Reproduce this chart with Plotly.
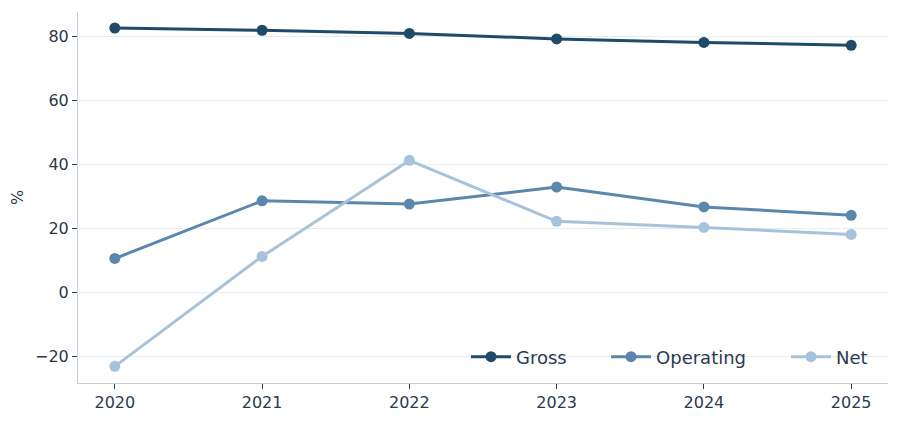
import plotly.graph_objects as go

years = [2020, 2021, 2022, 2023, 2024, 2025]
gross = [82.6, 81.9, 80.9, 79.2, 78.1, 77.2]
operating = [10.6, 28.6, 27.6, 32.9, 26.7, 24.1]
net = [-23.1, 11.25, 41.25, 22.2, 20.3, 18.1]
y_ticks = [-20, 0, 20, 40, 60, 80]
y_tick_labels = ["\u221220", "0", "20", "40", "60", "80"]

series = [("Gross", gross, "#1f4a68", "legend"),
          ("Operating", operating, "#5b87ad", "legend2"),
          ("Net", net, "#a7c3dc", "legend3")]

fig = go.Figure()
for name, vals, col, lg in series:
    fig.add_trace(go.Scatter(x=years, y=vals, name=name, mode="lines+markers", legend=lg,
                             line=dict(color=col, width=3), marker=dict(color=col, size=11)))

text_col = "#2a3a4e"
axis_col = "#c5cfdb"

def leg(x):
    return dict(orientation="h", xref="paper", yref="paper", x=x, xanchor="left",
                y=0.07, yanchor="middle", font=dict(size=18, color=text_col),
                bgcolor="rgba(0,0,0,0)", itemwidth=40)

fig.update_layout(
    width=891, height=415,
    margin=dict(l=70, r=11, t=4, b=40),
    paper_bgcolor="white", plot_bgcolor="white",
    font=dict(family="DejaVu Sans", size=16, color=text_col),
    showlegend=True,
    legend=leg(0.479), legend2=leg(0.6519), legend3=leg(0.8741),
    xaxis=dict(range=[2019.75, 2025.25], tickvals=years, ticktext=[str(y) for y in years],
               showgrid=False, showline=True, linecolor=axis_col, linewidth=1,
               ticks="outside", ticklen=5, tickcolor=text_col, zeroline=False, automargin=False),
    yaxis=dict(range=[-28.3, 87.6], tickvals=y_ticks, ticktext=y_tick_labels,
               showgrid=True, gridcolor="#e6edf5", gridwidth=1,
               showline=True, linecolor=axis_col, linewidth=1,
               ticks="outside", ticklen=5, tickcolor=text_col, zeroline=False, automargin=False,
               title=dict(text="%", font=dict(size=16, color=text_col), standoff=16)),
)

fig.write_html("out.html")
